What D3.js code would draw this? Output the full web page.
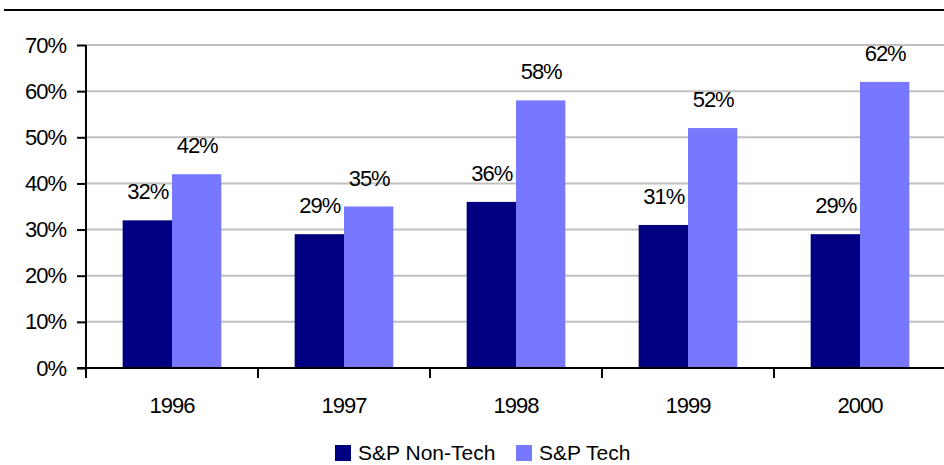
<!DOCTYPE html>
<html>
<head>
<meta charset="utf-8">
<script src="https://cdn.jsdelivr.net/npm/d3@7"></script>
<style>
  html, body { margin: 0; padding: 0; background: #fff; }
  svg { display: block; font-family: "Liberation Sans", Arial, sans-serif; }
</style>
</head>
<body>
<svg id="chart" width="944" height="465"></svg>
<script>
const categories = ["1996", "1997", "1998", "1999", "2000"];
const seriesNames = ["S&P Non-Tech", "S&P Tech"];
const nonTech = [32, 29, 36, 31, 29];
const tech = [42, 35, 58, 52, 62];
const yTicks = [0, 10, 20, 30, 40, 50, 60, 70];
const colors = ["#000080", "#7878ff"];

(function () {
const svg = d3.select("#chart");
const pLeft = 86, pRight = 946, pTop = 45, pBottom = 368;

const y = d3.scaleLinear().domain([0, 70]).range([pBottom, pTop]);
const x0 = d3.scaleBand().domain(categories).range([pLeft, pRight]).padding(0);
const x1 = d3.scaleBand().domain(seriesNames).range([0, x0.bandwidth()])
  .paddingInner(0).paddingOuter(0.743);

// top rule
svg.append("line").attr("x1", 4).attr("x2", 944).attr("y1", 10).attr("y2", 10)
  .attr("stroke", "#000").attr("stroke-width", 2);

// gridlines
svg.append("g").selectAll("line").data(yTicks.filter(d => d > 0)).join("line")
  .attr("x1", pLeft).attr("x2", pRight)
  .attr("y1", d => y(d)).attr("y2", d => y(d))
  .attr("stroke", "#c0c0c0").attr("stroke-width", 2);

// bars
const data = categories.map((c, i) => ({cat: c, vals: [nonTech[i], tech[i]]}));
const groups = svg.append("g").selectAll("g").data(data).join("g")
  .attr("transform", d => `translate(${x0(d.cat)},0)`);
groups.selectAll("rect").data(d => d.vals.map((v, j) => ({v, s: seriesNames[j], j}))).join("rect")
  .attr("x", d => x1(d.s)).attr("width", x1.bandwidth())
  .attr("y", d => y(d.v)).attr("height", d => pBottom - y(d.v))
  .attr("fill", d => colors[d.j]);
groups.selectAll("text").data(d => d.vals.map((v, j) => ({v, s: seriesNames[j], j}))).join("text")
  .attr("x", d => x1(d.s) + x1.bandwidth() / 2 + 0.5)
  .attr("y", d => y(d.v) - 21)
  .attr("text-anchor", "middle")
  .attr("font-size", 22).attr("letter-spacing", -1)
  .attr("fill", "#000")
  .text(d => d.v + "%");

// y axis
const yAxis = d3.axisLeft(y).tickValues(yTicks).tickSize(9).tickPadding(11)
  .tickFormat(d => d + "%");
const gy = svg.append("g").attr("transform", `translate(${pLeft},0)`).call(yAxis);
gy.select(".domain").remove();
gy.selectAll(".tick line").attr("stroke", "#000").attr("stroke-width", 2);
gy.selectAll(".tick text").attr("font-size", 22).attr("letter-spacing", -1)
  .attr("fill", "#000").attr("font-family", "Liberation Sans, Arial, sans-serif");
svg.append("line").attr("x1", pLeft).attr("x2", pLeft).attr("y1", pTop).attr("y2", pBottom + 10)
  .attr("stroke", "#000").attr("stroke-width", 2);

// x axis
svg.append("line").attr("x1", pLeft - 9).attr("x2", pRight).attr("y1", pBottom).attr("y2", pBottom)
  .attr("stroke", "#000").attr("stroke-width", 2);
const boundaries = categories.map(c => x0(c) + x0.step()).slice(0, -1);
svg.append("g").selectAll("line").data(boundaries).join("line")
  .attr("x1", d => d).attr("x2", d => d).attr("y1", pBottom).attr("y2", pBottom + 10)
  .attr("stroke", "#000").attr("stroke-width", 2);
svg.append("g").selectAll("text").data(categories).join("text")
  .attr("x", d => x0(d) + x0.bandwidth() / 2)
  .attr("y", 413)
  .attr("text-anchor", "middle")
  .attr("font-size", 22).attr("letter-spacing", -1)
  .attr("fill", "#000")
  .text(d => d);

// legend
const legendX = [335, 516];
const lg = svg.append("g").selectAll("g").data(seriesNames).join("g")
  .attr("transform", (d, i) => `translate(${legendX[i]},445)`);
lg.append("rect").attr("width", 16).attr("height", 16).attr("fill", (d, i) => colors[i]);
lg.append("text").attr("x", 23).attr("y", 15).attr("font-size", 21)
  .attr("fill", "#000").text(d => d);
})();
</script>
</body>
</html>
